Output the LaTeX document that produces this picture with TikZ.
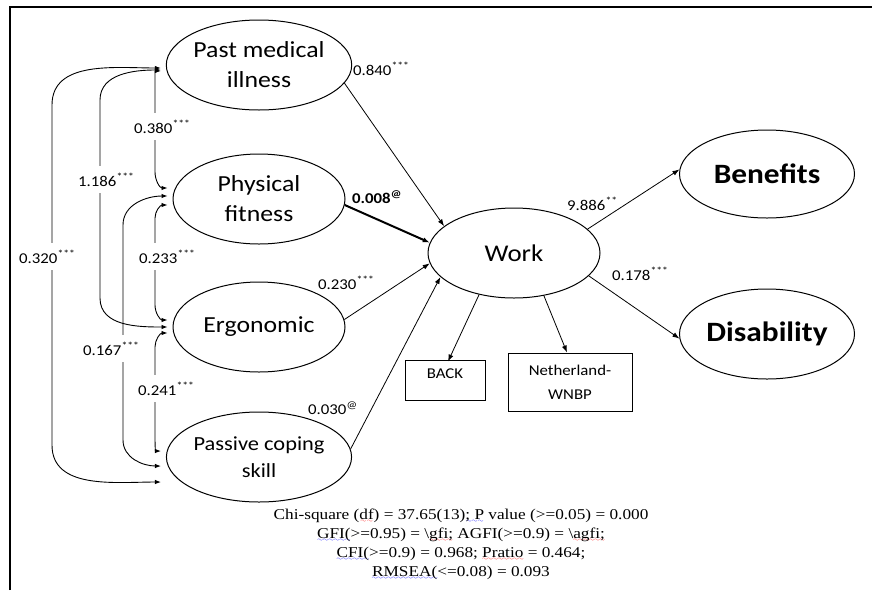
\documentclass[tikz,border=0pt]{standalone}
\usepackage{fontspec}
\setmainfont{Carlito}[FakeStretch=1.12]
\newfontfamily\tnr{Liberation Serif}[FakeStretch=1.15]
\usetikzlibrary{arrows.meta,calc,shapes.geometric}
\font\sqfont=lasy6
\newcommand\sq[2]{\setbox0\hbox{#2}\rlap{\textcolor{#1}{\lower3pt\hbox to\wd0{\xleaders\hbox{\sqfont\char58}\hfil}}}\box0\relax}
\tikzset{
  latent/.style={ellipse, draw, line width=1pt, inner sep=0pt, minimum width=172pt, minimum height=90pt, align=center},
  obs/.style={rectangle, draw, line width=1pt, inner sep=0pt, align=center, font=\fontsize{15}{24}\selectfont},
  lbl/.style={font=\fontsize{15}{18}\selectfont, inner sep=1pt, anchor=base west},
  gap/.style={fill=white, inner xsep=2pt, inner ysep=7pt},
  cov/.style={{Latex[length=6pt,width=4.5pt]}-{Latex[length=6pt,width=4.5pt]}, line width=0.9pt},
  regr/.style={-{Latex[length=7pt,width=5pt]}, line width=0.8pt}
}
\begin{document}
\begin{tikzpicture}[x=1pt,y=-1pt]
\useasboundingbox (0,0) rectangle (872,590);
\draw[line width=1.3pt] (10,590) -- (10,7) -- (872,7);

% latent variables
\node[latent, font=\fontsize{23}{30}\selectfont] (pmi) at (259,65) {Past medical\\illness};
\node[latent, font=\fontsize{23}{30}\selectfont] (pf)  at (259,199) {Physical\\fitness};
\node[latent, font=\fontsize{23}{30}\selectfont] (erg) at (259,327) {Ergonomic};
\node[latent, font=\fontsize{20}{27}\selectfont] (pcs) at (259,457) {Passive coping\\skill};
\node[latent, font=\fontsize{24}{30}\selectfont] (work) at (514,253) {Work};
\node[latent, minimum width=175pt, minimum height=88pt, font=\fontsize{28}{34}\selectfont\bfseries] (ben) at (767,174) {Benefits};
\node[latent, minimum width=175pt, minimum height=90pt, font=\fontsize{28}{34}\selectfont\bfseries] (dis) at (767,334) {Disability};

% observed indicators
\node[obs, minimum width=80pt, minimum height=40pt, text height=11pt, text depth=14pt] (back) at (445,380) {BACK};
\node[obs, minimum width=124pt, minimum height=58pt] (neth) at (570,382) {Netherland-\\WNBP};

% regressions
\draw[regr] (pmi.-12) -- (work.159);
\draw[regr, line width=2pt] (pf.-4) -- (work.173);
\draw[regr] (erg.5) -- (work.187);
\draw[regr] (pcs.5) -- (work.198);
\draw[regr] (work.18) -- (ben.177);
\draw[regr] (work.-17) -- (dis.183);
\draw[regr] (work.-130) -- ([xshift=3pt,yshift=-2pt]back.north);
\draw[regr] (work.-55) -- ([xshift=-3pt]neth.north);

% covariances
\draw[cov] ($(pmi.west)+(-5,3)$) to[out=180,in=90] (52,105) -- (52,445) to[out=-90,in=180] ($(pcs.west)+(-5,25)$);
\draw[cov] ($(pmi.west)+(-5,5)$) to[out=180,in=90] (100,100) -- (100,298) to[out=-90,in=180] ($(erg.west)+(-5,0)$);
\draw[cov] ($(pf.west)+(-5,-3)$) to[out=180,in=90] (123,225) -- (123,440) to[out=-90,in=180] ($(pcs.west)+(-5,9)$);
\draw[cov] ($(pmi.west)+(-5,6)$) to[out=180,in=90] (155,85) -- (155,172) to[out=-90,in=180] ($(pf.west)+(-5,-11)$);
\draw[cov] ($(pf.west)+(-5,6)$) to[out=180,in=90] (155,218) -- (155,305) to[out=-90,in=180] ($(erg.west)+(-5,-7)$);
\draw[cov] ($(erg.west)+(-5,6)$) to[out=180,in=90] (155,347) -- (155,438) to[out=-90,in=180] ($(pcs.west)+(-5,-6)$);

% covariance labels
\node[lbl, gap] (l320) at (17,263) {0.320\textsuperscript{***}};
\node[lbl, gap] (l186) at (76,186) {1.186\textsuperscript{***}};
\node[lbl, gap] (l380) at (132,133) {0.380\textsuperscript{***}};
\node[lbl, gap] (l233) at (137,263) {0.233\textsuperscript{***}};
\node[lbl, gap] (l167) at (81,355) {0.167\textsuperscript{***}};
\node[lbl, gap] (l241) at (136,395) {0.241\textsuperscript{***}};

% path labels
\node[lbl] (l840) at (352,75) {0.840\textsuperscript{***}};
\node[lbl, font=\fontsize{15}{18}\selectfont\bfseries] (l008) at (351,203) {0.008\textsuperscript{@}};
\node[lbl] (l230) at (317,289) {0.230\textsuperscript{***}};
\node[lbl] (l030) at (307,414) {0.030\textsuperscript{@}};
\node[lbl] (l886) at (566,210) {9.886\textsuperscript{**}};
\node[lbl] (l178) at (611,280) {0.178\textsuperscript{***}};

% fit statistics
\node[align=center, font=\tnr\fontsize{15}{19}\selectfont, inner sep=0pt] (fit) at (461,544)
{Chi-square (\sq{red}{df}) = 37.65(13)\sq{blue}{; P} value (>=0.05) = 0.000\\
\sq{blue}{GFI(}>=0.95) = \textbackslash\sq{red}{gfi;} AGFI(>=0.9) = \textbackslash\sq{red}{agfi;}\\
\sq{blue}{CFI(}>=0.9) = 0.968; \sq{red}{Pratio} = 0.464;\\
\sq{blue}{RMSEA(}<=0.08) = 0.093};
\end{tikzpicture}
\end{document}
